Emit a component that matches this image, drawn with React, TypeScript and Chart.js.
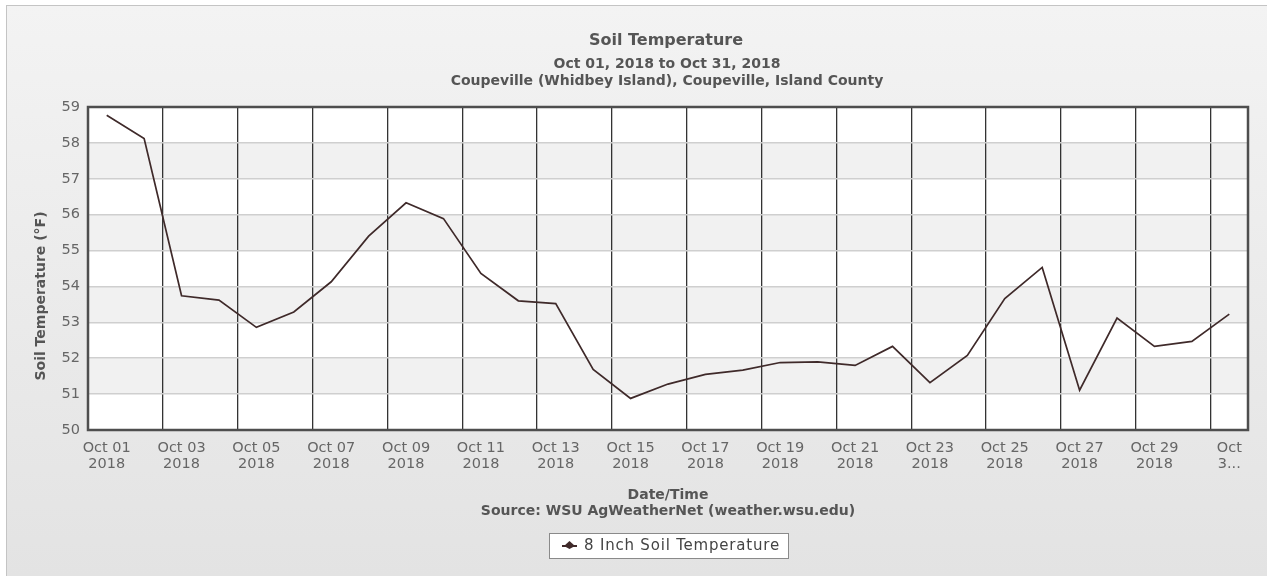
import { useEffect, useRef } from "react";
import { Chart, registerables } from "chart.js";
Chart.register(...registerables);

const dates = [
  "Oct 01", "Oct 02", "Oct 03", "Oct 04", "Oct 05", "Oct 06", "Oct 07", "Oct 08",
  "Oct 09", "Oct 10", "Oct 11", "Oct 12", "Oct 13", "Oct 14", "Oct 15", "Oct 16",
  "Oct 17", "Oct 18", "Oct 19", "Oct 20", "Oct 21", "Oct 22", "Oct 23", "Oct 24",
  "Oct 25", "Oct 26", "Oct 27", "Oct 28", "Oct 29", "Oct 30", "Oct 31",
];

const soilTemp8in = [
  58.77, 58.12, 53.74, 53.62, 52.86, 53.29, 54.13, 55.4, 56.33, 55.89, 54.36,
  53.6, 53.52, 51.69, 50.88, 51.28, 51.55, 51.67, 51.88, 51.9, 51.8, 52.33,
  51.32, 52.08, 53.66, 54.53, 51.11, 53.12, 52.33, 52.47, 53.23,
];

const xTickLabels = [
  ["Oct 01", "2018"], ["Oct 03", "2018"], ["Oct 05", "2018"], ["Oct 07", "2018"],
  ["Oct 09", "2018"], ["Oct 11", "2018"], ["Oct 13", "2018"], ["Oct 15", "2018"],
  ["Oct 17", "2018"], ["Oct 19", "2018"], ["Oct 21", "2018"], ["Oct 23", "2018"],
  ["Oct 25", "2018"], ["Oct 27", "2018"], ["Oct 29", "2018"], ["Oct", "3..."],
];

const yMin = 50;
const yMax = 59;

const titleText = "Soil Temperature";
const subtitle1 = "Oct 01, 2018 to Oct 31, 2018";
const subtitle2 = "Coupeville (Whidbey Island), Coupeville, Island County";
const yTitle = "Soil Temperature (°F)";
const xTitle = "Date/Time";
const sourceText = "Source: WSU AgWeatherNet (weather.wsu.edu)";
const seriesName = "8 Inch Soil Temperature";

const FONT = "'DejaVu Sans', Verdana, sans-serif";
const LINE_COLOR = "#3f2a2a";

const decorPlugin = {
  id: "decor",
  beforeDraw(chart: any) {
    const { ctx, chartArea: a } = chart;
    ctx.save();
    ctx.fillStyle = "#ffffff";
    ctx.fillRect(0, 0, chart.width, chart.height);
    const g = ctx.createLinearGradient(0, 5, 0, chart.height);
    g.addColorStop(0, "#f3f3f3");
    g.addColorStop(1, "#e3e3e3");
    ctx.fillStyle = g;
    ctx.fillRect(6, 5, chart.width, chart.height);
    ctx.strokeStyle = "#c4c4c4";
    ctx.lineWidth = 1;
    ctx.strokeRect(6.5, 5.5, chart.width + 10, chart.height + 10);
    // plot area bands
    ctx.fillStyle = "#ffffff";
    ctx.fillRect(a.left, a.top, a.right - a.left, a.bottom - a.top);
    const ys = chart.scales.y;
    for (let v = yMin; v < yMax; v++) {
      if ((v - yMin) % 2 === 1) {
        const y1 = ys.getPixelForValue(v + 1);
        const y0 = ys.getPixelForValue(v);
        ctx.fillStyle = "#f1f1f1";
        ctx.fillRect(a.left, y1, a.right - a.left, y0 - y1);
      }
    }
    ctx.restore();
  },
  afterDraw(chart: any) {
    const { ctx, chartArea: a } = chart;
    ctx.save();
    // plot border
    ctx.strokeStyle = "#4e4e4e";
    ctx.lineWidth = 2.5;
    ctx.strokeRect(a.left, a.top, a.right - a.left, a.bottom - a.top);

    ctx.fillStyle = "#555555";
    ctx.textAlign = "center";
    ctx.textBaseline = "middle";
    ctx.font = `bold 16px ${FONT}`;
    ctx.fillText(titleText, 666, 41);
    ctx.font = `bold 14px ${FONT}`;
    ctx.fillText(subtitle1, 667, 64);
    ctx.fillText(subtitle2, 667, 81);
    ctx.fillText(xTitle, 668, 495);
    ctx.fillText(sourceText, 668, 511);

    ctx.save();
    ctx.translate(41, 296);
    ctx.rotate(-Math.PI / 2);
    ctx.fillText(yTitle, 0, 0);
    ctx.restore();

    // legend
    ctx.fillStyle = "#ffffff";
    ctx.fillRect(549, 533, 239, 25);
    ctx.strokeStyle = "#8a8a8a";
    ctx.lineWidth = 1;
    ctx.strokeRect(549.5, 533.5, 239, 25);
    ctx.strokeStyle = LINE_COLOR;
    ctx.lineWidth = 2;
    ctx.beginPath();
    ctx.moveTo(562, 546);
    ctx.lineTo(577, 546);
    ctx.stroke();
    ctx.fillStyle = LINE_COLOR;
    ctx.beginPath();
    ctx.moveTo(569.5, 541);
    ctx.lineTo(575, 546);
    ctx.lineTo(569.5, 549);
    ctx.lineTo(564, 546);
    ctx.closePath();
    ctx.fill();
    ctx.fillStyle = "#444444";
    ctx.textAlign = "left";
    ctx.font = `15px ${FONT}`;
    (ctx as any).letterSpacing = "0.8px";
    ctx.fillText(seriesName, 584, 546);
    (ctx as any).letterSpacing = "0px";
    ctx.restore();
  },
};

export default function App() {
  const ref = useRef<HTMLCanvasElement | null>(null);
  useEffect(() => {
    document.body.style.margin = "0";
    const canvas = ref.current;
    if (!canvas) return;
    const chart = new Chart(canvas, {
      type: "line",
      data: {
        labels: dates,
        datasets: [
          {
            label: seriesName,
            data: soilTemp8in,
            borderColor: LINE_COLOR,
            backgroundColor: LINE_COLOR,
            borderWidth: 1.7,
            pointRadius: 0,
            tension: 0,
          },
        ],
      },
      options: {
        animation: false,
        responsive: false,
        devicePixelRatio: 1,
        layout: { padding: { top: 107, right: 19, left: 0, bottom: 0 } },
        plugins: {
          legend: { display: false },
          title: { display: false },
          tooltip: { enabled: false },
        },
        scales: {
          x: {
            type: "category",
            offset: true,
            border: { display: false },
            grid: {
              offset: true,
              drawTicks: false,
              lineWidth: 1.3,
              color: (c: any) => (c.index % 2 === 0 ? "#333333" : "rgba(0,0,0,0)"),
            },
            ticks: {
              autoSkip: false,
              maxRotation: 0,
              minRotation: 0,
              padding: 10,
              color: "#666666",
              font: { family: FONT, size: 14.5, lineHeight: 1.1 },
              callback: (_v: any, i: number) => (i % 2 === 0 ? xTickLabels[i / 2] : ""),
            },
            afterFit: (s: any) => {
              s.height = 146;
            },
          },
          y: {
            min: yMin,
            max: yMax,
            border: { display: false },
            grid: { drawTicks: false, color: "#cfcfcf", lineWidth: 1.5 },
            ticks: {
              stepSize: 1,
              padding: 8,
              color: "#666666",
              font: { family: FONT, size: 14.5 },
            },
            afterFit: (s: any) => {
              s.width = 88;
            },
          },
        },
      },
      plugins: [decorPlugin],
    });
    return () => chart.destroy();
  }, []);
  return (
    <div style={{ width: 1267, height: 576 }}>
      <canvas ref={ref} width={1267} height={576} style={{ display: "block" }} />
    </div>
  );
}
